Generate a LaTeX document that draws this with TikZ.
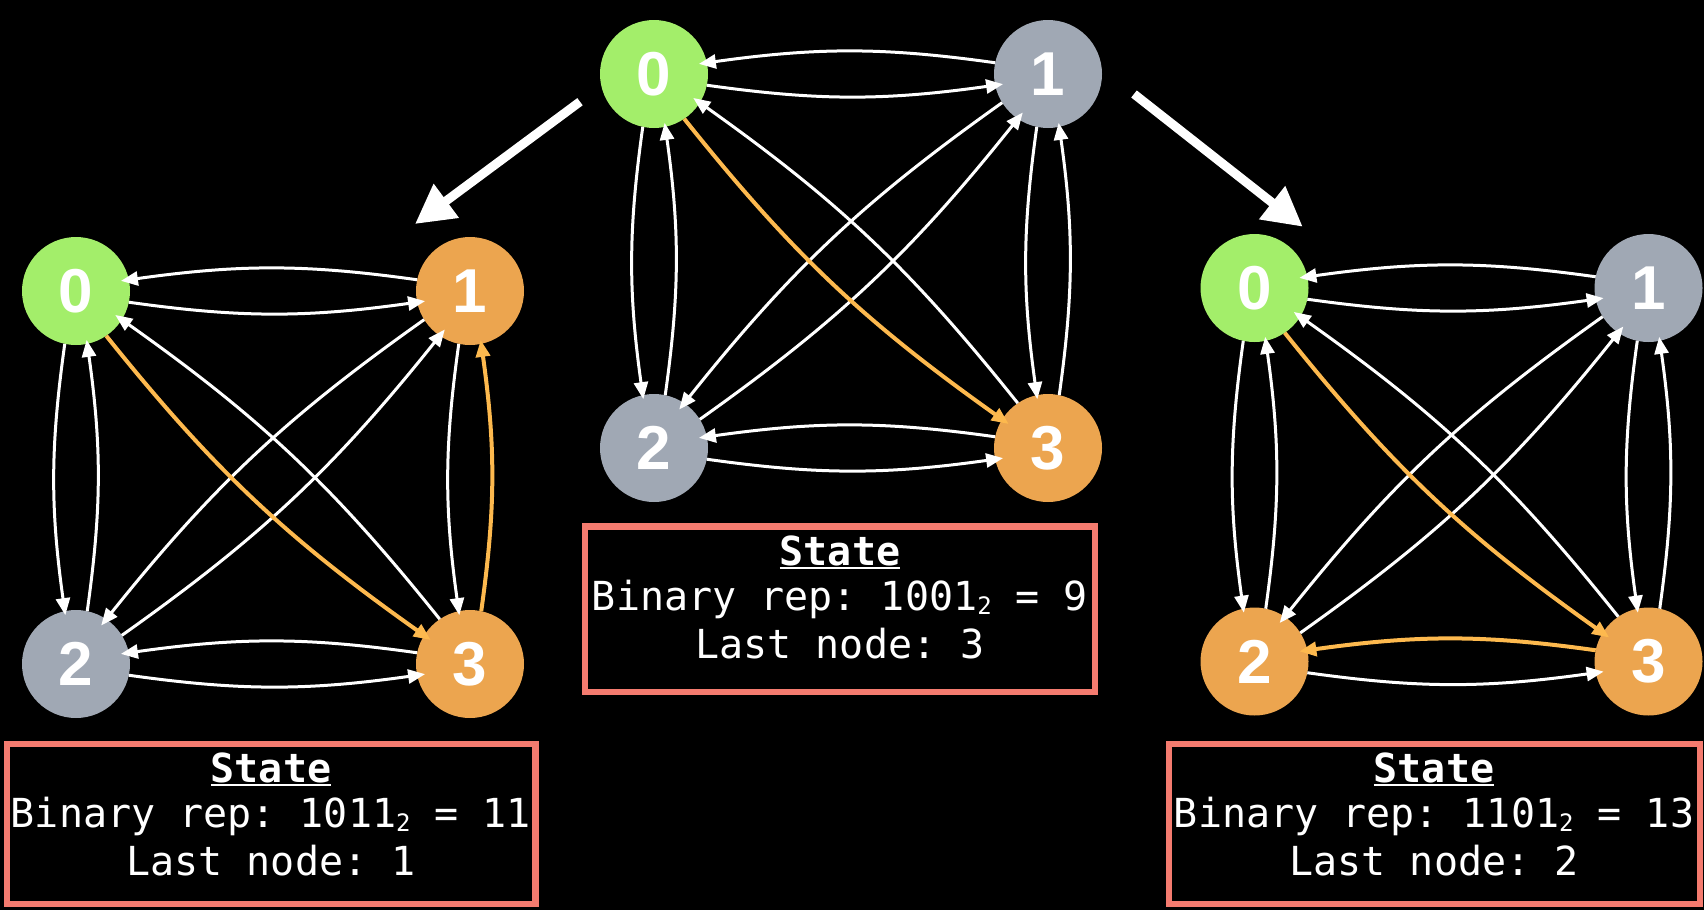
\documentclass[tikz,border=0pt]{standalone}
\usepackage{fontspec}
\setmonofont{DejaVu Sans Mono}
\newfontfamily\nodefont{Liberation Sans}
\usetikzlibrary{arrows.meta}
\definecolor{ngreen}{HTML}{A3EE6A}
\definecolor{ngray}{HTML}{A0A8B4}
\definecolor{norange}{HTML}{ECA54F}
\definecolor{eorange}{HTML}{FDB94E}
\definecolor{boxred}{HTML}{F47B6F}
\newcommand\myul[1]{\setbox0\hbox{#1}\rlap{\rule[-3.5pt]{\wd0}{2pt}}\box0}
\newcommand\subtwo{\raisebox{-4pt}{\fontsize{24}{24}\selectfont 2}}
\newcommand\kedge[4][]{%
  \pgfmathtruncatemacro\sa{#4-12}%
  \pgfmathtruncatemacro\ea{#4+192}%
  \draw[wedge,#1] (#2.\sa) to[bend right=8] (#3.\ea);}
\tikzset{
  vert/.style={circle, minimum size=108pt, inner sep=0pt, outer sep=0pt, text=white,
    font=\nodefont\bfseries\fontsize{62}{62}\selectfont},
  wedge/.style={draw=white, line width=3pt, -{Triangle[length=17pt,width=14pt]}, shorten >=-8pt},
  oedge/.style={draw=eorange, line width=4pt},
  vedge/.style={shorten >=-4pt},
  bigarrow/.style={draw=white, line width=9pt, -{Triangle[length=39pt,width=40pt]}},
  statebox/.style={draw=boxred, line width=6.5pt},
  txt/.style={text=white, font=\ttfamily\fontsize{40}{40}\selectfont, inner sep=0pt, anchor=base}
}
\begin{document}
\begin{tikzpicture}[x=1pt,y=-1pt]
\useasboundingbox (0,0) rectangle (1704,910);
\fill[black] (0,0) rectangle (1704,910);

% ---------- center graph ----------
\node[vert, fill=ngreen]  (C0) at (654,74) {0};
\node[vert, fill=ngray]   (C1) at (1048,74) {1};
\node[vert, fill=ngray]   (C2) at (654,448) {2};
\node[vert, fill=norange] (C3) at (1048,448) {3};
\kedge{C0}{C1}{0}
\kedge{C1}{C0}{180}
\kedge[vedge]{C0}{C2}{-90}
\kedge[vedge]{C2}{C0}{90}
\kedge[vedge]{C1}{C3}{-90}
\kedge[vedge]{C3}{C1}{90}
\kedge{C2}{C3}{0}
\kedge{C3}{C2}{180}
\kedge{C3}{C0}{136}
\kedge{C1}{C2}{-136}
\kedge{C2}{C1}{44}
\kedge[oedge]{C0}{C3}{-44}

% ---------- left graph ----------
\node[vert, fill=ngreen]  (L0) at (76,291) {0};
\node[vert, fill=norange] (L1) at (470,291) {1};
\node[vert, fill=ngray]   (L2) at (76,664) {2};
\node[vert, fill=norange] (L3) at (470,664) {3};
\kedge{L0}{L1}{0}
\kedge{L1}{L0}{180}
\kedge[vedge]{L0}{L2}{-90}
\kedge[vedge]{L2}{L0}{90}
\kedge[vedge]{L1}{L3}{-90}
\kedge{L2}{L3}{0}
\kedge{L3}{L2}{180}
\kedge{L3}{L0}{136}
\kedge{L1}{L2}{-136}
\kedge{L2}{L1}{44}
\kedge[oedge]{L0}{L3}{-44}
\kedge[vedge,oedge]{L3}{L1}{90}

% ---------- right graph ----------
\node[vert, fill=ngreen]  (R0) at (1254.5,288) {0};
\node[vert, fill=ngray]   (R1) at (1648.5,288) {1};
\node[vert, fill=norange] (R2) at (1254.5,661.5) {2};
\node[vert, fill=norange] (R3) at (1648.5,661.5) {3};
\kedge{R0}{R1}{0}
\kedge{R1}{R0}{180}
\kedge[vedge]{R0}{R2}{-90}
\kedge[vedge]{R2}{R0}{90}
\kedge[vedge]{R1}{R3}{-90}
\kedge[vedge]{R3}{R1}{90}
\kedge{R2}{R3}{0}
\kedge{R3}{R0}{136}
\kedge{R1}{R2}{-136}
\kedge{R2}{R1}{44}
\kedge[oedge]{R0}{R3}{-44}
\kedge[oedge]{R3}{R2}{180}

% ---------- big arrows ----------
\coordinate (la1) at (580,101.7);
\coordinate (la2) at (415,224);
\coordinate (ra1) at (1134,94);
\coordinate (ra2) at (1302.7,226.7);
\draw[bigarrow] (la1) -- (la2);
\draw[bigarrow] (ra1) -- (ra2);

% ---------- state boxes ----------
\draw[statebox] (585,526.5) rectangle (1095,692);
\node[txt] (cs) at (840,565) {\myul{\bfseries State}};
\node[txt] (cb) at (840,610) {Binary rep: 1001\subtwo{} = 9};
\node[txt] (cl) at (840,658) {Last node: 3};

\draw[statebox] (7,744) rectangle (535.5,904);
\node[txt] (ls) at (271,782) {\myul{\bfseries State}};
\node[txt] (lb) at (271,827) {Binary rep: 1011\subtwo{} = 11};
\node[txt] (ll) at (271,875) {Last node: 1};

\draw[statebox] (1169,744) rectangle (1700,904);
\node[txt] (rs) at (1434,782) {\myul{\bfseries State}};
\node[txt] (rb) at (1434,827) {Binary rep: 1101\subtwo{} = 13};
\node[txt] (rl) at (1434,875) {Last node: 2};
\end{tikzpicture}
\end{document}
